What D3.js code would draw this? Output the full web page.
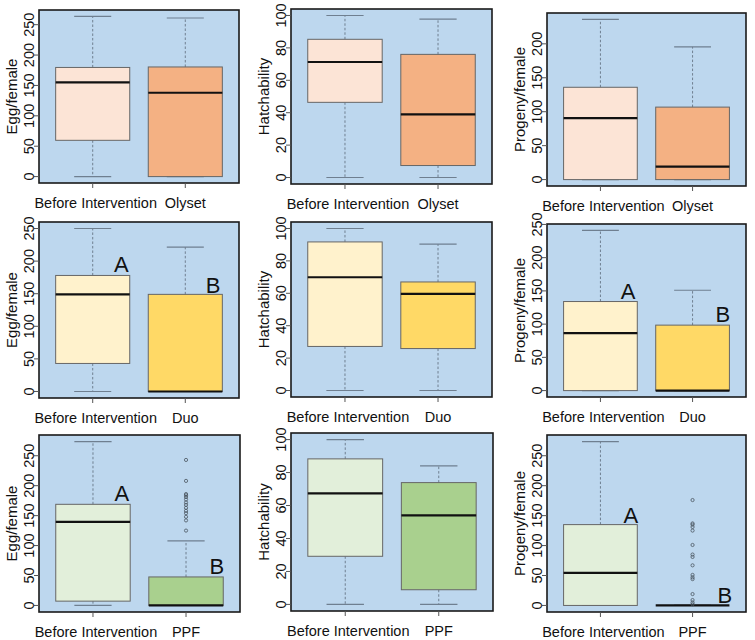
<!DOCTYPE html>
<html><head><meta charset="utf-8">
<script src="https://cdn.jsdelivr.net/npm/d3@7"></script>
<style>body{margin:0;background:#fff} svg{display:block} text{font-family:"Liberation Sans",Arial,Helvetica,sans-serif}</style>
</head><body><svg id="c" width="755" height="640"></svg>
<script>
// ---------- data ----------
const measures = ["Egg/female", "Hatchability", "Progeny/female"];
const treatments = ["Olyset", "Duo", "PPF"];
const baselineLabel = "Before Intervention";
// box stats: [lower whisker, Q1, median, Q3, upper whisker] for [Before, After]
const eggOlyset     = [[0, 59.7, 155, 179.6, 263.6], [0, 0, 138, 180.4, 261]];
const hatchOlyset   = [[0, 46.4, 71.3, 85.3, 100],   [0, 7.4, 39, 76, 97.7]];
const progenyOlyset = [[0, 0, 90.6, 136, 236],       [0, 0, 19, 106.8, 195.6]];
const eggDuo        = [[0, 43, 149, 178, 250],       [0, 0, 0, 149, 221.6]];
const hatchDuo      = [[0, 27.2, 69.9, 91.7, 100],   [0, 25.9, 59.6, 67, 90.4]];
const progenyDuo    = [[0, 0, 86.5, 134, 241],       [0, 0, 0, 98.5, 151]];
const eggPPF        = [[0, 7.2, 139.7, 168.9, 273.7],[0, 0, 0, 47.6, 108]];
const hatchPPF      = [[0, 29.2, 67.4, 88.3, 100],   [0, 8.9, 54, 73.9, 84]];
const progenyPPF    = [[0, 0, 54.4, 135, 273.7],     [0, 0, 0, 0, 0]];
// outliers (After group)
const eggPPFOutliers     = [243, 208, 186, 184, 181, 177, 172, 168, 163, 158, 154, 148, 142, 125];
const progenyPPFOutliers = [176, 137, 135, 131, 125, 101, 85, 81, 67, 51, 47, 44, 19, 9, 5, 2];
// significance letters: [letter, x (group position), y value]
const eggDuoLetters     = [["A", 1.31, 196], ["B", 2.30, 163]];
const progenyDuoLetters = [["A", 1.30, 150], ["B", 2.33, 115]];
const eggPPFLetters     = [["A", 1.31, 187], ["B", 2.33, 66]];
const progenyPPFLetters = [["A", 1.33, 151], ["B", 2.35, 18]];
// tick labels
const eggTicks = [0, 50, 100, 150, 200, 250];
const hatchTicks = [0, 20, 40, 60, 80, 100];
const progenyTicks = [0, 50, 100, 150, 200, 250];
// fills per treatment row: [Before, After]
const rowFills = [["#FCE4D6", "#F4B183"], ["#FFF2CC", "#FFD966"], ["#E2EFDA", "#A9D08E"]];

// ---------- layout ----------
const panels = [
  {r:0,c:0, x:39,  y:10,  w:200, h:173, stats:eggOlyset,     ticks:eggTicks,     out:[], letters:[]},
  {r:0,c:1, x:291, y:9,   w:201, h:175, stats:hatchOlyset,   ticks:hatchTicks,   out:[], letters:[]},
  {r:0,c:2, x:547, y:13,  w:199, h:173, stats:progenyOlyset, ticks:progenyTicks, out:[], letters:[]},
  {r:1,c:0, x:39,  y:222, w:200, h:176, stats:eggDuo,        ticks:eggTicks,     out:[], letters:eggDuoLetters},
  {r:1,c:1, x:291, y:222, w:201, h:175, stats:hatchDuo,      ticks:hatchTicks,   out:[], letters:[]},
  {r:1,c:2, x:547, y:224, w:199, h:173, stats:progenyDuo,    ticks:progenyTicks, out:[], letters:progenyDuoLetters},
  {r:2,c:0, x:39,  y:435, w:201, h:177, stats:eggPPF,        ticks:eggTicks,     out:eggPPFOutliers, letters:eggPPFLetters},
  {r:2,c:1, x:291, y:433, w:202, h:178, stats:hatchPPF,      ticks:hatchTicks,   out:[], letters:[]},
  {r:2,c:2, x:547, y:435, w:199, h:177, stats:progenyPPF,    ticks:progenyTicks, out:progenyPPFOutliers, letters:progenyPPFLetters}
];

const svg = d3.select("#c");
svg.append("rect").attr("width", 755).attr("height", 640).attr("fill", "#fff");

panels.forEach(p => {
  const g = svg.append("g");
  const all = p.stats.flat().concat(p.out);
  const lo = d3.min(all), hi = d3.max(all), pad = (hi - lo) * 0.04;
  const y = d3.scaleLinear().domain([lo - pad, hi + pad]).range([p.y + p.h, p.y]);
  const x = d3.scaleLinear().domain([0.42, 2.58]).range([p.x, p.x + p.w]);
  const fills = rowFills[p.r];
  const labels = [baselineLabel, treatments[p.r]];

  g.append("rect").attr("x", p.x).attr("y", p.y).attr("width", p.w).attr("height", p.h).attr("fill", "#BDD7EE");

  p.stats.forEach((s, i) => {
    const cx = x(i + 1), bw = x(i + 1.4) - x(i + 1), cw = x(i + 1.2) - x(i + 1);
    g.append("line").attr("x1", cx).attr("x2", cx).attr("y1", y(s[3])).attr("y2", y(s[4]))
      .attr("stroke", "#6f7f90").attr("stroke-width", 1).attr("stroke-dasharray", "2.5,2");
    g.append("line").attr("x1", cx).attr("x2", cx).attr("y1", y(s[1])).attr("y2", y(s[0]))
      .attr("stroke", "#6f7f90").attr("stroke-width", 1).attr("stroke-dasharray", "2.5,2");
    [s[0], s[4]].forEach(v => {
      g.append("line").attr("x1", cx - cw).attr("x2", cx + cw).attr("y1", y(v)).attr("y2", y(v))
        .attr("stroke", "#6f7f90").attr("stroke-width", 1.2);
    });
    g.append("rect").attr("x", cx - bw).attr("width", 2 * bw)
      .attr("y", y(s[3])).attr("height", Math.max(0, y(s[1]) - y(s[3])))
      .attr("fill", fills[i]).attr("stroke", "#666").attr("stroke-width", 1);
    g.append("line").attr("x1", cx - bw).attr("x2", cx + bw).attr("y1", y(s[2])).attr("y2", y(s[2]))
      .attr("stroke", "#111").attr("stroke-width", 2.2);
  });

  g.selectAll("circle.o").data(p.out).enter().append("circle")
    .attr("cx", x(2)).attr("cy", d => y(d)).attr("r", 1.6)
    .attr("fill", "none").attr("stroke", "#4a5560").attr("stroke-width", 0.8);

  g.selectAll("text.l").data(p.letters).enter().append("text")
    .attr("x", d => x(d[1])).attr("y", d => y(d[2])).attr("dy", "0.36em")
    .attr("text-anchor", "middle").attr("font-size", 22).attr("fill", "#111").text(d => d[0]);

  g.append("rect").attr("x", p.x).attr("y", p.y).attr("width", p.w).attr("height", p.h)
    .attr("fill", "none").attr("stroke", "#1a1a1a").attr("stroke-width", 1.6);

  const [d0, d1] = y.domain();
  const ticks = p.ticks.filter(t => t >= d0 && t <= d1);
  ticks.forEach(t => {
    g.append("line").attr("x1", p.x - 5).attr("x2", p.x).attr("y1", y(t)).attr("y2", y(t))
      .attr("stroke", "#555").attr("stroke-width", 1);
    g.append("text").attr("transform", `translate(${p.x - 10.5},${y(t)}) rotate(-90)`)
      .attr("dy", "0.36em").attr("text-anchor", "middle").attr("font-size", 14.5).attr("fill", "#111")
      .text(t);
  });
  g.append("text").attr("transform", `translate(${p.x - 27},${p.y + p.h / 2}) rotate(-90)`)
    .attr("dy", "0.36em").attr("text-anchor", "middle").attr("font-size", 15).attr("fill", "#111")
    .text(measures[p.c]);

  labels.forEach((lab, i) => {
    g.append("line").attr("x1", x(i + 1)).attr("x2", x(i + 1)).attr("y1", p.y + p.h).attr("y2", p.y + p.h + 5)
      .attr("stroke", "#555").attr("stroke-width", 1);
    g.append("text").attr("x", x(i + 1) + (i === 0 ? 3 : 0)).attr("y", p.y + p.h + 24.5)
      .attr("text-anchor", "middle").attr("font-size", 14.5).attr("fill", "#111").text(lab);
  });
});
</script></body></html>
